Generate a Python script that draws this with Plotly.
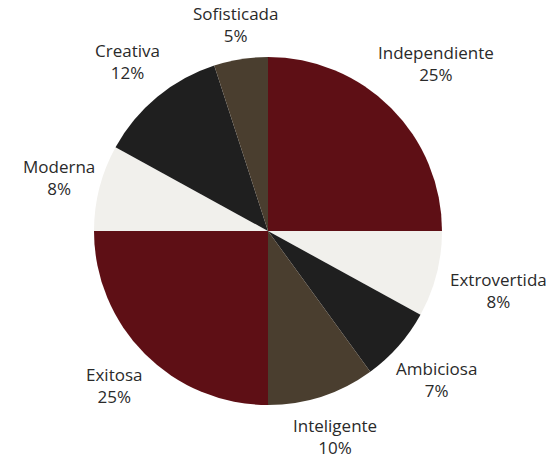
import math
import plotly.graph_objects as go

# Personality traits and their share (%)
labels = ["Independiente", "Extrovertida", "Ambiciosa", "Inteligente",
          "Exitosa", "Moderna", "Creativa", "Sofisticada"]
values = [25, 8, 7, 10, 25, 8, 12, 5]
colors = ["#5e0f15", "#f1f0ec", "#1f1f1f", "#4a3e2f",
          "#5e0f15", "#f1f0ec", "#1f1f1f", "#4a3e2f"]

W, H = 551, 457
margin = dict(l=94, r=109, t=57, b=52)
plot_w = W - margin["l"] - margin["r"]
plot_h = H - margin["t"] - margin["b"]
radius_px = min(plot_w, plot_h) / 2

FONT_SIZE = 17
LINE_H = 22

fig = go.Figure(go.Pie(
    labels=labels,
    values=values,
    marker=dict(colors=colors, line=dict(width=0)),
    sort=False,
    direction="clockwise",
    rotation=0,
    textinfo="none",
    hoverinfo="label+percent",
    showlegend=False,
))

# Two-line labels set just outside each slice: the nearest side of the
# text box sits on a ring slightly larger than the pie.
total = sum(values)
ring = 1.035  # ring radius, in pie radii
annotations = []
cum = 0
for lab, v in zip(labels, values):
    mid = (cum + v / 2) / total * 2 * math.pi
    cum += v
    s, c = math.sin(mid), math.cos(mid)
    text_w = len(lab) * 0.53 * FONT_SIZE
    text_h = 2 * LINE_H
    push = text_w / 2 * abs(s) + text_h / 2 * abs(c)
    annotations.append(dict(
        x=0.5 + s * ring * radius_px / plot_w,
        y=0.5 + c * ring * radius_px / plot_h,
        xref="paper", yref="paper",
        xshift=s * push, yshift=c * push,
        text=f"{lab}<br>{round(v / total * 100)}%",
        showarrow=False, xanchor="center", yanchor="middle",
        font=dict(family="Open Sans", size=FONT_SIZE, color="#2a2a2a"),
    ))

fig.update_layout(
    width=W, height=H,
    margin=margin,
    paper_bgcolor="white",
    plot_bgcolor="white",
    annotations=annotations,
)

fig.write_html("out.html")
